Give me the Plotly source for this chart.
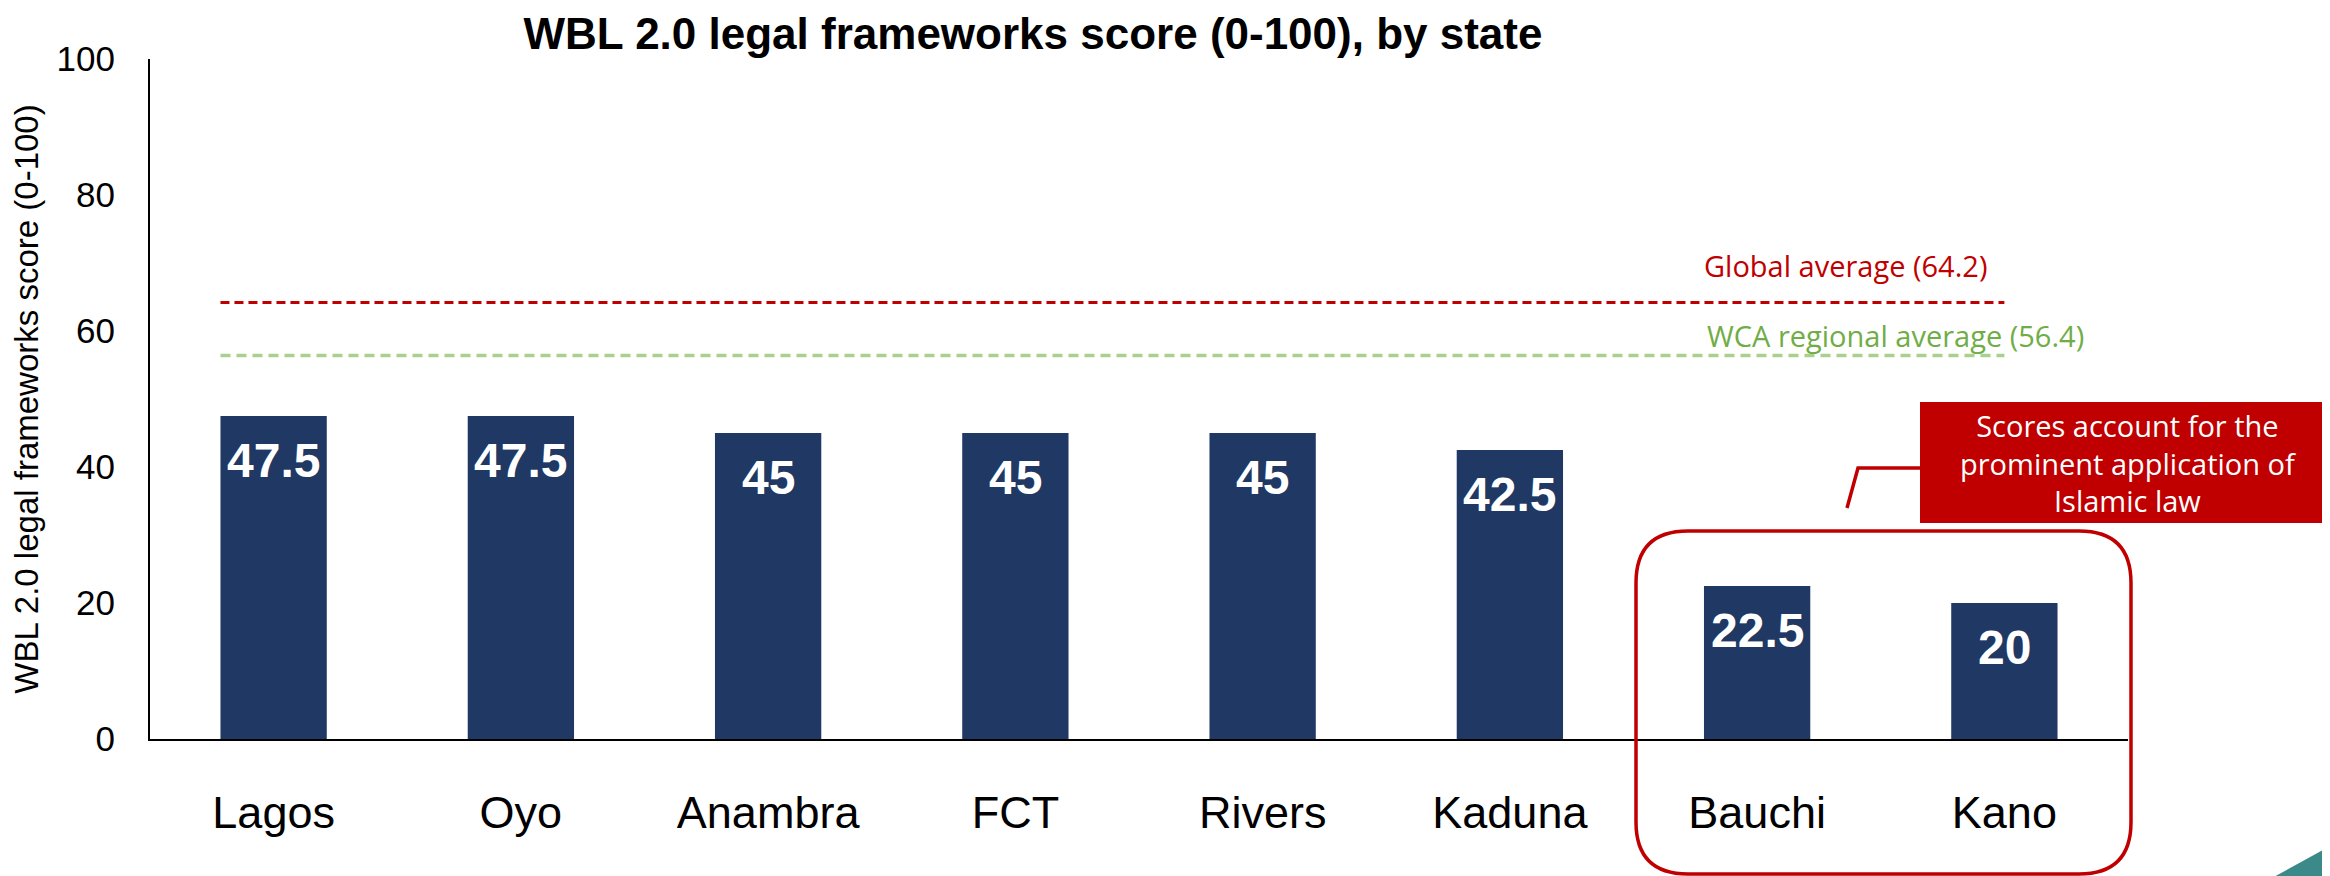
import plotly.graph_objects as go

# ---- data ----
states = ["Lagos", "Oyo", "Anambra", "FCT", "Rivers", "Kaduna", "Bauchi", "Kano"]
scores = [47.5, 47.5, 45, 45, 45, 42.5, 22.5, 20]
global_avg = 64.2
wca_avg = 56.4
y_ticks = [0, 20, 40, 60, 80, 100]
title_text = "WBL 2.0 legal frameworks score (0-100), by state"
y_title = "WBL 2.0 legal frameworks score (0-100)"
global_label = "Global average (64.2)"
wca_label = "WCA regional average (56.4)"
callout_lines = ["Scores account for the", "prominent application of", "Islamic law"]

# ---- style ----
W, H = 2330, 876
OFF = 8  # page body margin of the viewer
PL, PR, PT, PB = 150, 2128, 59, 739  # plot area in page pixels
FW, FH = W - OFF, H - OFF
ML, MR, MT, MB = PL - OFF, W - PR, PT - OFF, H - PB
BAR_COLOR = "#203864"
RED = "#C00000"
GREEN_TXT = "#70AD47"
GREEN_LINE = "#A9D18E"
TEAL = "#3B8A89"
FONT = "Liberation Sans"
LABEL_FONT = "Open Sans"
bargap = 0.57

pw, ph = PR - PL, PB - PT


def px_x(x):
    return (x - PL) / pw


def px_y(y):
    return (PB - y) / ph


fig = go.Figure()
fig.add_trace(go.Bar(x=states, y=scores, marker=dict(color=BAR_COLOR, line=dict(width=0)),
                     hoverinfo="x+y", showlegend=False))

# value labels inside bars
for s, v in zip(states, scores):
    fig.add_annotation(x=s, y=v, xref="x", yref="y", text=f"<b>{v:g}</b>", showarrow=False,
                       yanchor="middle", yshift=-44,
                       font=dict(family=FONT, size=48, color="white"))

half = (1 - bargap) / 2
last = len(states) - 1
# reference lines
fig.add_shape(type="line", xref="x", yref="y", x0=-half, x1=last, y0=global_avg, y1=global_avg,
              line=dict(color=RED, width=3, dash="9px,5px"))
fig.add_shape(type="line", xref="x", yref="y", x0=-half, x1=last, y0=wca_avg, y1=wca_avg,
              line=dict(color=GREEN_LINE, width=3.5, dash="10px,6px"))
fig.add_annotation(x=px_x(1702), xref="paper", y=global_avg, yref="y", xanchor="left", yanchor="middle",
                   yshift=37, text=global_label, showarrow=False,
                   font=dict(family=LABEL_FONT, size=29, color=RED))
fig.add_annotation(x=px_x(1705), xref="paper", y=wca_avg, yref="y", xanchor="left", yanchor="middle",
                   yshift=20, text=wca_label, showarrow=False,
                   font=dict(family=LABEL_FONT, size=29, color=GREEN_TXT))

# callout box
fig.add_shape(type="rect", xref="paper", yref="paper", x0=px_x(1920), x1=px_x(2340),
              y0=px_y(523), y1=px_y(402), fillcolor=RED, line=dict(width=0), layer="above")
fig.add_annotation(x=px_x(2128), xref="paper", y=px_y(463), yref="paper", xanchor="center",
                   yanchor="middle", text="<br>".join(callout_lines), showarrow=False,
                   align="center", font=dict(family=LABEL_FONT, size=29, color="white"))
# connector
fig.add_shape(type="path", xref="paper", yref="paper",
              path=f"M {px_x(1920)} {px_y(468)} L {px_x(1858)} {px_y(468)} L {px_x(1847)} {px_y(508)}",
              line=dict(color=RED, width=3.5))

# rounded rectangle around Bauchi & Kano
x0, x1 = px_x(1636), px_x(2131)
y0, y1 = px_y(874), px_y(531)
rx, ry = 52 / pw, 52 / ph
path = (f"M {x0 + rx} {y1} L {x1 - rx} {y1} Q {x1} {y1} {x1} {y1 - ry} "
        f"L {x1} {y0 + ry} Q {x1} {y0} {x1 - rx} {y0} L {x0 + rx} {y0} "
        f"Q {x0} {y0} {x0} {y0 + ry} L {x0} {y1 - ry} Q {x0} {y1} {x0 + rx} {y1} Z")
fig.add_shape(type="path", xref="paper", yref="paper", path=path,
              line=dict(color=RED, width=3.5), fillcolor="rgba(0,0,0,0)")

# teal corner decoration
fig.add_shape(type="path", xref="paper", yref="paper",
              path=f"M {px_x(2272)} {px_y(878)} L {px_x(2332)} {px_y(845)} L {px_x(2332)} {px_y(878)} Z",
              fillcolor=TEAL, line=dict(width=0))

fig.update_layout(
    width=FW, height=FH,
    margin=dict(l=ML, r=MR, t=MT, b=MB, pad=0),
    paper_bgcolor="white", plot_bgcolor="white",
    bargap=bargap,
    font=dict(family=FONT, color="black"),
    title=dict(text=f"<b>{title_text}</b>", x=(1033 - OFF) / FW, xanchor="center", xref="container",
               y=1, yanchor="top", yref="container", pad=dict(t=10, b=0),
               font=dict(family=FONT, size=44, color="black")),
    xaxis=dict(showline=True, linecolor="black", linewidth=2, ticks="", showgrid=False,
               tickfont=dict(family=FONT, size=45, color="black"), ticklabelstandoff=33,
               zeroline=False),
    yaxis=dict(range=[0, 100], tickvals=y_ticks, showline=True, linecolor="black", linewidth=2,
               ticks="", showgrid=False, zeroline=False,
               tickfont=dict(family=FONT, size=35, color="black"), ticklabelstandoff=26,
               title=dict(text=y_title, font=dict(family=FONT, size=33, color="black"), standoff=10)),
)

fig.write_html("out.html")
